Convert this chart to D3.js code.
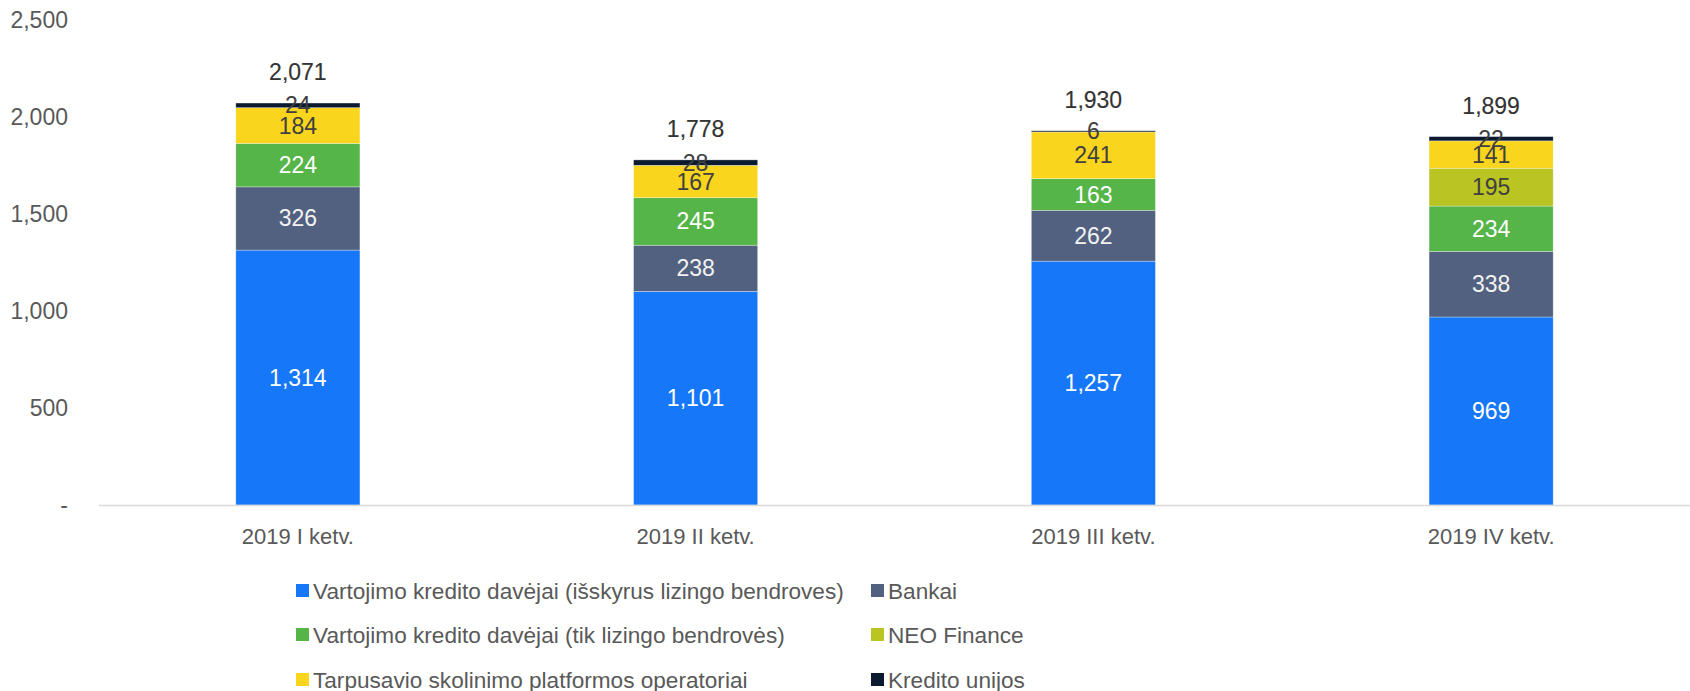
<!DOCTYPE html>
<html>
<head>
<meta charset="utf-8">
<script src="https://cdn.jsdelivr.net/npm/d3@7"></script>
<style>
  html, body { margin:0; padding:0; background:#fff; }
  svg { display:block; font-family:'Liberation Sans', Arial, sans-serif; }
</style>
</head>
<body>
<svg id="chart" width="1690" height="691"></svg>
<script>
// Data
const quarters = ['2019 I ketv.', '2019 II ketv.', '2019 III ketv.', '2019 IV ketv.'];
const seriesNames = [
  'Vartojimo kredito davėjai (išskyrus lizingo bendroves)',
  'Bankai',
  'Vartojimo kredito davėjai (tik lizingo bendrovės)',
  'NEO Finance',
  'Tarpusavio skolinimo platformos operatoriai',
  'Kredito unijos'
];
const vkdExLeasing = [1314, 1101, 1257, 969];
const banks        = [326, 238, 262, 338];
const vkdLeasing   = [224, 245, 163, 234];
const neoFinance   = [0, 0, 0, 195];
const p2p          = [184, 167, 241, 141];
const creditUnions = [24, 28, 6, 22];
const totals       = [2071, 1778, 1930, 1899];
const yTicks = [0, 500, 1000, 1500, 2000, 2500];

const colors = ['#1677f8', '#52617f', '#56b548', '#bac422', '#f9d51d', '#0b1a2e'];
const labelColors = ['#ffffff', '#f2f2f2', '#ffffff', '#404040', '#404040', '#404040'];

const keys = ['k0', 'k1', 'k2', 'k3', 'k4', 'k5'];
const seriesArrays = [vkdExLeasing, banks, vkdLeasing, neoFinance, p2p, creditUnions];
const rows = quarters.map((q, i) => {
  const r = { q };
  keys.forEach((k, j) => r[k] = seriesArrays[j][i]);
  return r;
});

const svg = d3.select('#chart');
const fmt = d3.format(',');

const x = d3.scaleBand().domain(quarters).range([99, 1690]).paddingInner(0.688).paddingOuter(0.344);
const y = d3.scaleLinear().domain([0, 2500]).range([505, 20]);

// y tick labels (no axis line)
svg.append('g').selectAll('text')
  .data(yTicks)
  .join('text')
  .attr('x', 68)
  .attr('y', d => y(d))
  .attr('text-anchor', 'end')
  .attr('dominant-baseline', 'central')
  .attr('fill', '#595959')
  .attr('font-size', 23)
  .text(d => d === 0 ? '-' : fmt(d));

// stacked bars
const stacked = d3.stack().keys(keys)(rows);
const layers = svg.append('g').selectAll('g')
  .data(stacked)
  .join('g')
  .attr('fill', (d, i) => colors[i]);

layers.selectAll('rect')
  .data(d => d)
  .join('rect')
  .attr('x', d => x(d.data.q))
  .attr('width', x.bandwidth())
  .attr('y', d => y(d[1]))
  .attr('height', d => y(d[0]) - y(d[1]))
  .attr('stroke', '#ffffff')
  .attr('stroke-opacity', 0.45)
  .attr('stroke-width', 0.7);

// x axis baseline
svg.append('line')
  .attr('x1', 99).attr('x2', 1690)
  .attr('y1', y(0) + 0.5).attr('y2', y(0) + 0.5)
  .attr('stroke', '#d9d9d9')
  .attr('stroke-width', 1.5);

// segment labels
stacked.forEach((layer, i) => {
  svg.append('g').selectAll('text')
    .data(layer.filter(d => d[1] - d[0] > 0))
    .join('text')
    .attr('x', d => x(d.data.q) + x.bandwidth() / 2)
    .attr('y', d => (y(d[0]) + y(d[1])) / 2)
    .attr('text-anchor', 'middle')
    .attr('dominant-baseline', 'central')
    .attr('fill', labelColors[i])
    .attr('font-size', 23)
    .text(d => fmt(d[1] - d[0]));
});

// totals
svg.append('g').selectAll('text')
  .data(quarters)
  .join('text')
  .attr('x', d => x(d) + x.bandwidth() / 2)
  .attr('y', (d, i) => y(d3.sum(seriesArrays, s => s[i])) - 31)
  .attr('text-anchor', 'middle')
  .attr('dominant-baseline', 'central')
  .attr('fill', '#333333')
  .attr('font-size', 23)
  .attr('stroke', '#333333')
  .attr('stroke-width', 0.15)
  .text((d, i) => fmt(totals[i]));

// category labels
svg.append('g').selectAll('text')
  .data(quarters)
  .join('text')
  .attr('x', d => x(d) + x.bandwidth() / 2)
  .attr('y', 536)
  .attr('text-anchor', 'middle')
  .attr('dominant-baseline', 'central')
  .attr('fill', '#595959')
  .attr('font-size', 22)
  .text(d => d);

// legend: two columns, three rows
const legendCols = [296, 871];
const legendRows = [591, 635, 680];
const legend = svg.append('g').selectAll('g')
  .data(seriesNames)
  .join('g')
  .attr('transform', (d, i) => `translate(${legendCols[i % 2]},${legendRows[Math.floor(i / 2)]})`);
legend.append('rect')
  .attr('x', 0).attr('y', -7)
  .attr('width', 13).attr('height', 13)
  .attr('fill', (d, i) => colors[i]);
legend.append('text')
  .attr('x', 17)
  .attr('y', 0)
  .attr('dominant-baseline', 'central')
  .attr('fill', '#595959')
  .attr('font-size', 22.6)
  .text(d => d);
</script>
</body>
</html>
